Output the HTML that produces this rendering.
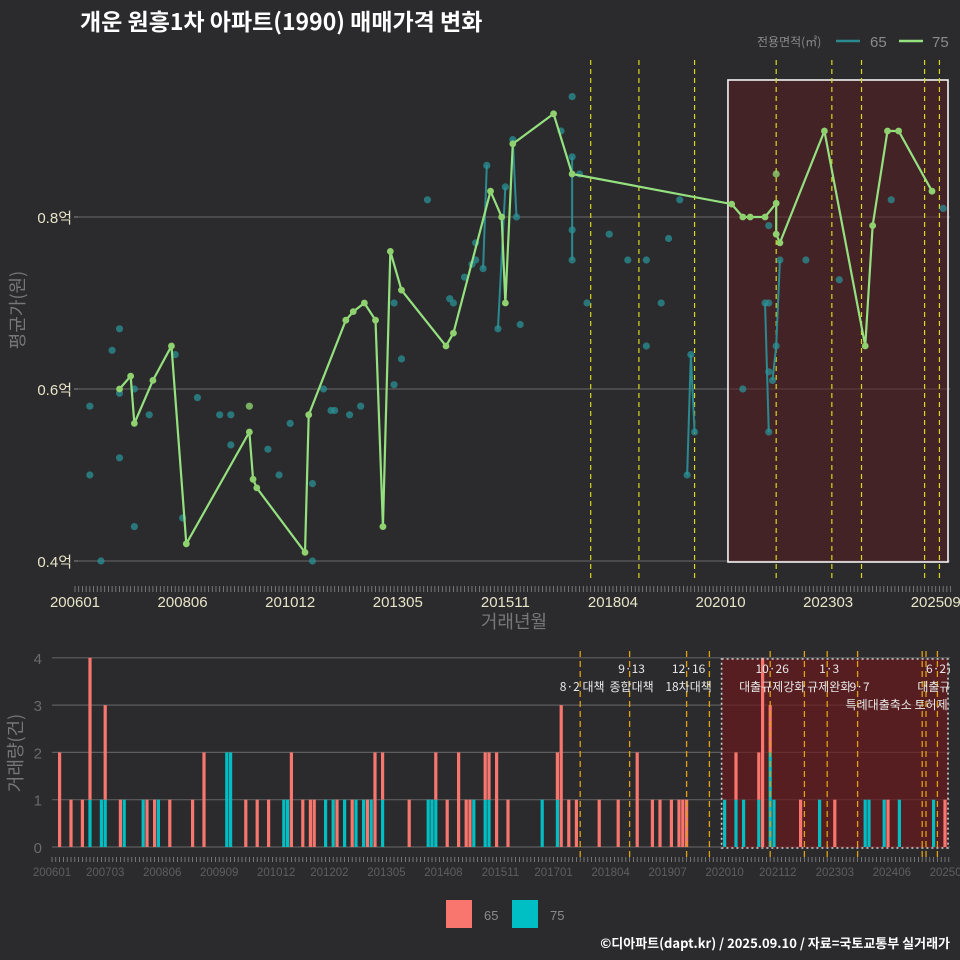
<!DOCTYPE html>
<html><head><meta charset="utf-8"><style>
body{margin:0;background:#2b2b2d;}
svg{display:block;font-family:"Liberation Sans","Noto Sans CJK KR",sans-serif;}
</style></head><body>
<svg id="c" width="960" height="960" viewBox="0 0 960 960">
<rect width="960" height="960" fill="#2b2b2d"/>
<text x="80" y="30" fill="#ffffff" font-size="23" font-weight="bold" font-family="Noto Sans CJK KR, sans-serif">개운 원흥1차 아파트(1990) 매매가격 변화</text>
<g>
<text x="757" y="46" fill="#8a8a8a" font-size="12" font-family="Noto Sans CJK KR, sans-serif">전용면적(㎡)</text>
<line x1="836" y1="41" x2="860" y2="41" stroke="#2a8a8f" stroke-width="2.5"/>
<text x="870" y="47" fill="#8a8a8a" font-size="15">65</text>
<line x1="899" y1="41" x2="923" y2="41" stroke="#95e07f" stroke-width="2.5"/>
<text x="932" y="47" fill="#8a8a8a" font-size="15">75</text>
</g>
<g id="topPanel"></g>
<g id="botPanel"></g>
<text transform="translate(24,310) rotate(-90)" text-anchor="middle" fill="#777" font-size="18" font-family="Noto Sans CJK KR, sans-serif">평균가(원)</text>
<text x="514" y="628" text-anchor="middle" fill="#777" font-size="18" font-family="Noto Sans CJK KR, sans-serif">거래년월</text>
<text transform="translate(22,753) rotate(-90)" text-anchor="middle" fill="#777" font-size="18" font-family="Noto Sans CJK KR, sans-serif">거래량(건)</text>
<g>
<rect x="446" y="900" width="26" height="28" fill="#F8766D"/>
<text x="484" y="920" fill="#8a8a8a" font-size="13">65</text>
<rect x="512" y="900" width="26" height="28" fill="#00BFC4"/>
<text x="550" y="920" fill="#8a8a8a" font-size="13">75</text>
</g>
<text x="950" y="948" text-anchor="end" fill="#ffffff" font-size="13" font-weight="bold" font-family="Noto Sans CJK KR, sans-serif">©디아파트(dapt.kr) / 2025.09.10 / 자료=국토교통부 실거래가</text>
</svg>
<script>
const m75 = [12,15,16,21,26,30,47,48,49,62,63,73,75,78,81,83,85,88,100,102,112,115,116,118,129,134,177,180,182,186,189,189,190,202,213,215,219,222,231];
const v75 = [0.60,0.615,0.56,0.61,0.65,0.42,0.55,0.495,0.485,0.41,0.57,0.68,0.69,0.70,0.68,0.44,0.76,0.715,0.65,0.665,0.83,0.80,0.70,0.885,0.92,0.85,0.815,0.80,0.80,0.80,0.816,0.78,0.77,0.90,0.65,0.79,0.90,0.90,0.83];
const m65 = [4,4,7,10,12,12,12,16,16,20,27,29,33,39,42,42,52,55,58,64,64,67,69,70,74,77,86,86,88,95,101,102,105,107,108,108,110,111,114,116,118,119,120,131,134,134,134,134,136,138,144,149,154,154,158,160,163,165,166,167,180,186,187,187,187,187,188,189,190,197,206,220,234];
const v65 = [0.58,0.50,0.40,0.645,0.67,0.52,0.595,0.44,0.60,0.57,0.64,0.45,0.59,0.57,0.535,0.57,0.53,0.50,0.56,0.49,0.40,0.60,0.575,0.575,0.57,0.58,0.605,0.70,0.635,0.82,0.705,0.70,0.73,0.745,0.75,0.77,0.74,0.86,0.67,0.835,0.89,0.80,0.675,0.90,0.75,0.785,0.87,0.94,0.85,0.70,0.78,0.75,0.75,0.65,0.70,0.775,0.82,0.50,0.64,0.55,0.60,0.70,0.70,0.79,0.55,0.62,0.61,0.65,0.75,0.75,0.727,0.82,0.81];
const seg65A = [36,38,40,44,45,57,58,61,66,67];
const seg65B = [37,39,41,45,46,58,59,64,67,68];
const extra75m = [47,189];
const extra75v = [0.58,0.85];
const yTicks = [0.4,0.6,0.8];
const yTickLabels = ['0.4억','0.6억','0.8억'];
const xTickMonths = [0,29,58,87,116,145,174,203,232];
const xTickLabels = ['200601','200806','201012','201305','201511','201804','202010','202303','202509'];
const barRedM = [2,5,8,10,14,18,25,27,31,37,40,51,54,57,63,66,68,69,75,79,83,85,87,94,101,104,107,109,110,114,115,117,120,133,134,136,138,144,149,154,158,160,163,165,166,167,180,186,187,189,197,206,220,235];
const barRedN = [2,1,1,3,2,1,1,1,1,1,2,1,1,1,2,1,1,1,1,1,1,2,1,1,1,1,2,1,1,1,1,2,1,1,3,1,1,1,1,2,1,1,1,1,1,1,1,1,4,1,1,1,1,1];
const barTealM = [10,13,14,19,24,28,46,47,61,62,72,74,77,80,82,84,87,99,100,101,111,114,115,129,133,177,180,182,186,189,190,202,214,215,219,223,232];
const barTealN = [1,1,1,1,1,1,2,2,1,1,1,1,1,1,1,1,1,1,1,1,1,1,1,1,1,1,1,1,1,2,1,1,1,1,1,1,1];
const vTicks = [0,1,2,3,4];
const bxTickMonths = [0,14,29,44,59,73,88,103,118,132,147,162,177,191,206,221,236];
const bxTickLabels = ['200601','200703','200806','200909','201012','201202','201305','201408','201511','201701','201804','201907','202010','202112','202303','202406','202509'];
const policyM = [139,152,167,173,189,198,204,212,229,230,233];
const policyTop = [1,1,1,0,1,0,1,1,1,0,1];
const noteM = [139,152,152,167,167,189,189,204,204,212,225,233,233];
const noteRow = [1,0,1,0,1,0,1,0,1,1,2,0,1];
const noteText = ['8·2 대책','9·13','종합대책','12·16','18차대책','10·26','대출규제강화','1·3','규제완화','9·7','특례대출축소 토허제 해제','6·27','대출규제'];

const NS='http://www.w3.org/2000/svg';
function mk(parent,tag,attrs,name){const e=document.createElementNS(NS,tag);for(const k in attrs)e.setAttribute(k,attrs[k]);


parent.appendChild(e);return e;}
const svgEl=document.getElementById('c');
const defs=mk(svgEl,'defs',{},'defs');
const cp=mk(defs,'clipPath',{id:'clipTop'},'clip-top');mk(cp,'rect',{x:52,y:50,width:898,height:540},'clip-rect');
const cp2=mk(defs,'clipPath',{id:'clipBot'},'clip-bottom');mk(cp2,'rect',{x:40,y:640,width:910,height:220},'clip-rect');

const tx=m=>75+m*3.71, ty=v=>561-(v-0.4)*860;
const topG=document.getElementById('topPanel');
yTicks.forEach((t,i)=>{
 mk(topG,'line',{x1:78,x2:950,y1:ty(t),y2:ty(t),stroke:'#5e5e5e','stroke-width':1.2},'y-gridline');
 mk(topG,'line',{x1:74,x2:78,y1:ty(t),y2:ty(t),stroke:'#888'},'y-tick');
 const tt=mk(topG,'text',{x:72,y:ty(t)+6,'text-anchor':'end',fill:'#e8e4c8','font-size':15,'font-family':'Liberation Sans, Noto Sans CJK KR, sans-serif'},'y-tick-label');tt.textContent=yTickLabels[i];
});
for(let m=0;m<=236;m++){mk(topG,'line',{x1:tx(m),x2:tx(m),y1:586,y2:592,stroke:'#888','stroke-width':0.8},'x-minor-tick');}
xTickMonths.forEach((m,i)=>{const t=mk(topG,'text',{x:tx(m),y:607,'text-anchor':'middle',fill:'#e8e4c8','font-size':15},'x-tick-label');t.textContent=xTickLabels[i];});
const gT=mk(topG,'g',{'clip-path':'url(#clipTop)'},'plot-area');
mk(gT,'rect',{x:tx(176),y:80,width:948-tx(176),height:482,fill:'#5a1e22','fill-opacity':0.55,stroke:'#f2f2f2','stroke-width':1.6},'highlight-box');
policyM.forEach((m,i)=>{if(policyTop[i])mk(gT,'line',{x1:tx(m),x2:tx(m),y1:60,y2:580,stroke:'#d8d820','stroke-width':1.2,'stroke-dasharray':'5,4'},'policy-line');});
seg65A.forEach((a,i)=>{const b=seg65B[i];mk(gT,'line',{x1:tx(m65[a]),y1:ty(v65[a]),x2:tx(m65[b]),y2:ty(v65[b]),stroke:'#2a8a8f','stroke-width':2},'series-65-segment');});
m65.forEach((m,i)=>mk(gT,'circle',{cx:tx(m),cy:ty(v65[i]),r:3.6,fill:'#2a9096','fill-opacity':0.75},'point-65'));
mk(gT,'path',{d:m75.map((m,i)=>(i?'L':'M')+tx(m)+','+ty(v75[i])).join(''),fill:'none',stroke:'#95e07f','stroke-width':2.2},'series-75-line');
m75.forEach((m,i)=>mk(gT,'circle',{cx:tx(m),cy:ty(v75[i]),r:3.4,fill:'#8fd16f'},'point-75'));
extra75m.forEach((m,i)=>mk(gT,'circle',{cx:tx(m),cy:ty(extra75v[i]),r:3.6,fill:'#8fd16f','fill-opacity':0.8},'point-75'));

const bx=m=>52+m*3.8, by=n=>847-n*47.3;
const botG=document.getElementById('botPanel');
vTicks.forEach(t=>{
 mk(botG,'line',{x1:52,x2:950,y1:by(t),y2:by(t),stroke:'#5e5e5e','stroke-width':1.2},'volume-gridline');
 const tt=mk(botG,'text',{x:42,y:by(t)+6,'text-anchor':'end',fill:'#6a6a6a','font-size':15},'volume-tick-label');tt.textContent=t;
});
for(let m=0;m<=236;m++){mk(botG,'line',{x1:bx(m),x2:bx(m),y1:857,y2:862,stroke:'#888','stroke-width':0.8},'x-minor-tick');}
bxTickMonths.forEach((m,i)=>{const t=mk(botG,'text',{x:bx(m),y:876,'text-anchor':'middle',fill:'#5e5e5e','font-size':11.5},'volume-x-tick-label');t.textContent=bxTickLabels[i];});
const gB=mk(botG,'g',{'clip-path':'url(#clipBot)'},'volume-plot-area');
mk(gB,'rect',{x:bx(177)-3,y:659,width:948-bx(177)+3,height:189,fill:'#6a1a1c','fill-opacity':0.7},'volume-highlight-fill');
const tealAt={};
barTealM.forEach((m,i)=>{tealAt[m]=barTealN[i];mk(gB,'rect',{x:bx(m)-1.6,y:by(barTealN[i]),width:3.2,height:barTealN[i]*47.3,fill:'#00BFC4'},'bar-75');});
barRedM.forEach((m,i)=>{const base=tealAt[m]||0;mk(gB,'rect',{x:bx(m)-1.6,y:by(base+barRedN[i]),width:3.2,height:barRedN[i]*47.3,fill:'#F8766D'},'bar-65');});
mk(gB,'rect',{x:bx(177)-3,y:659,width:948-bx(177)+3,height:189,fill:'none',stroke:'#d0d0d0','stroke-width':1.6,'stroke-dasharray':'2,3'},'volume-highlight-border');
policyM.forEach(m=>mk(gB,'line',{x1:bx(m),x2:bx(m),y1:651,y2:858,stroke:'#e0a010','stroke-width':1.3,'stroke-dasharray':'6,4'},'volume-policy-line'));
noteM.forEach((m,i)=>{const t=mk(gB,'text',{x:bx(m)+2,y:673+noteRow[i]*18,'text-anchor':'middle',fill:'#e8e8e8','font-size':12,'font-family':'Noto Sans CJK KR, sans-serif'},'policy-note');t.textContent=noteText[i];});
</script>
</body></html>
